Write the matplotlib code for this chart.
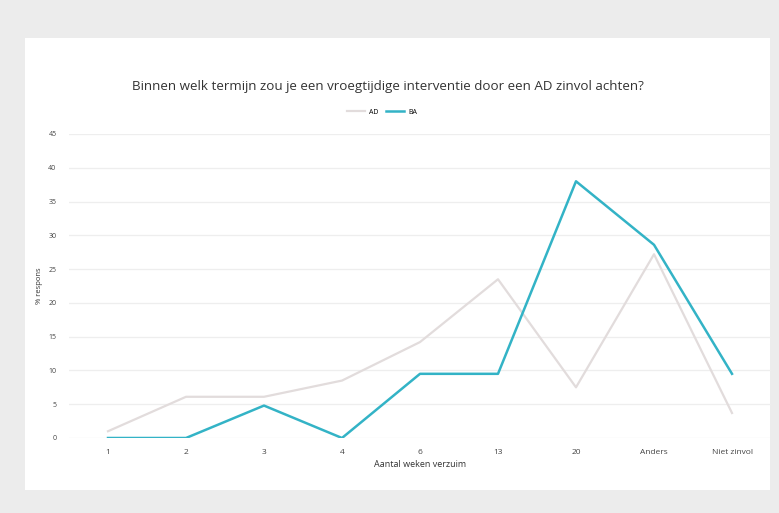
import numpy as np
import matplotlib
matplotlib.use("Agg")
import matplotlib.pyplot as plt
from matplotlib.patches import Rectangle

# data
categories = ["1", "2", "3", "4", "6", "13", "20", "Anders", "Niet zinvol"]
ad_values = [1.0, 6.1, 6.1, 8.5, 14.2, 23.5, 7.5, 27.2, 3.7]
ba_values = [0.0, 0.0, 4.8, 0.0, 9.5, 9.5, 38.0, 28.6, 9.5]

plt.rcParams["font.family"] = ["Open Sans", "DejaVu Sans"]

fig = plt.figure(figsize=(7.79, 5.13), dpi=100)
fig.patch.set_facecolor("#ececec")

# white card behind the chart
fig.patches.append(Rectangle((25 / 779, 1 - 490 / 513), (770 - 25) / 779, (490 - 38) / 513,
                             transform=fig.transFigure, facecolor="white", edgecolor="none", zorder=-5))

ax = fig.add_axes([69 / 779, 1 - 438 / 513, (771 - 69) / 779, (438 - 134) / 513])
ax.set_facecolor("none")
ax.set_zorder(1)

x = np.arange(len(categories))
ax.plot(x, ad_values, color="#e2dcdc", lw=1.6, label="AD", zorder=3)
ax.plot(x, ba_values, color="#33b3c6", lw=1.8, label="BA", zorder=4)

ax.set_xlim(-0.5, len(categories) - 0.5)
ax.set_ylim(0, 45)
ax.set_yticks(np.arange(0, 46, 5))
ax.set_xticks(x)
ax.set_xticklabels(categories)
ax.tick_params(axis="both", length=0, colors="#444444")
ax.tick_params(axis="y", pad=9, labelsize=5)
ax.tick_params(axis="x", pad=8, labelsize=6)
ax.grid(axis="y", color="#eeeeee", lw=0.9)
ax.set_axisbelow(True)
for s in ax.spines.values():
    s.set_visible(False)

ax.set_ylabel("% respons", fontsize=5.5, color="#333333", labelpad=4)
ax.set_xlabel("Aantal weken verzuim", fontsize=6.5, color="#333333", labelpad=3)

fig.text(388 / 779, 1 - 87 / 513, "Binnen welk termijn zou je een vroegtijdige interventie door een AD zinvol achten?",
         ha="center", va="center", fontsize=9.6, color="#333333")

fig.legend(loc="center", bbox_to_anchor=(382 / 779, 1 - 112 / 513), ncol=2, frameon=False,
           fontsize=5, handlelength=2.6, columnspacing=1.2, handletextpad=0.5)

fig.savefig("out.png", dpi=100, facecolor=fig.get_facecolor())
